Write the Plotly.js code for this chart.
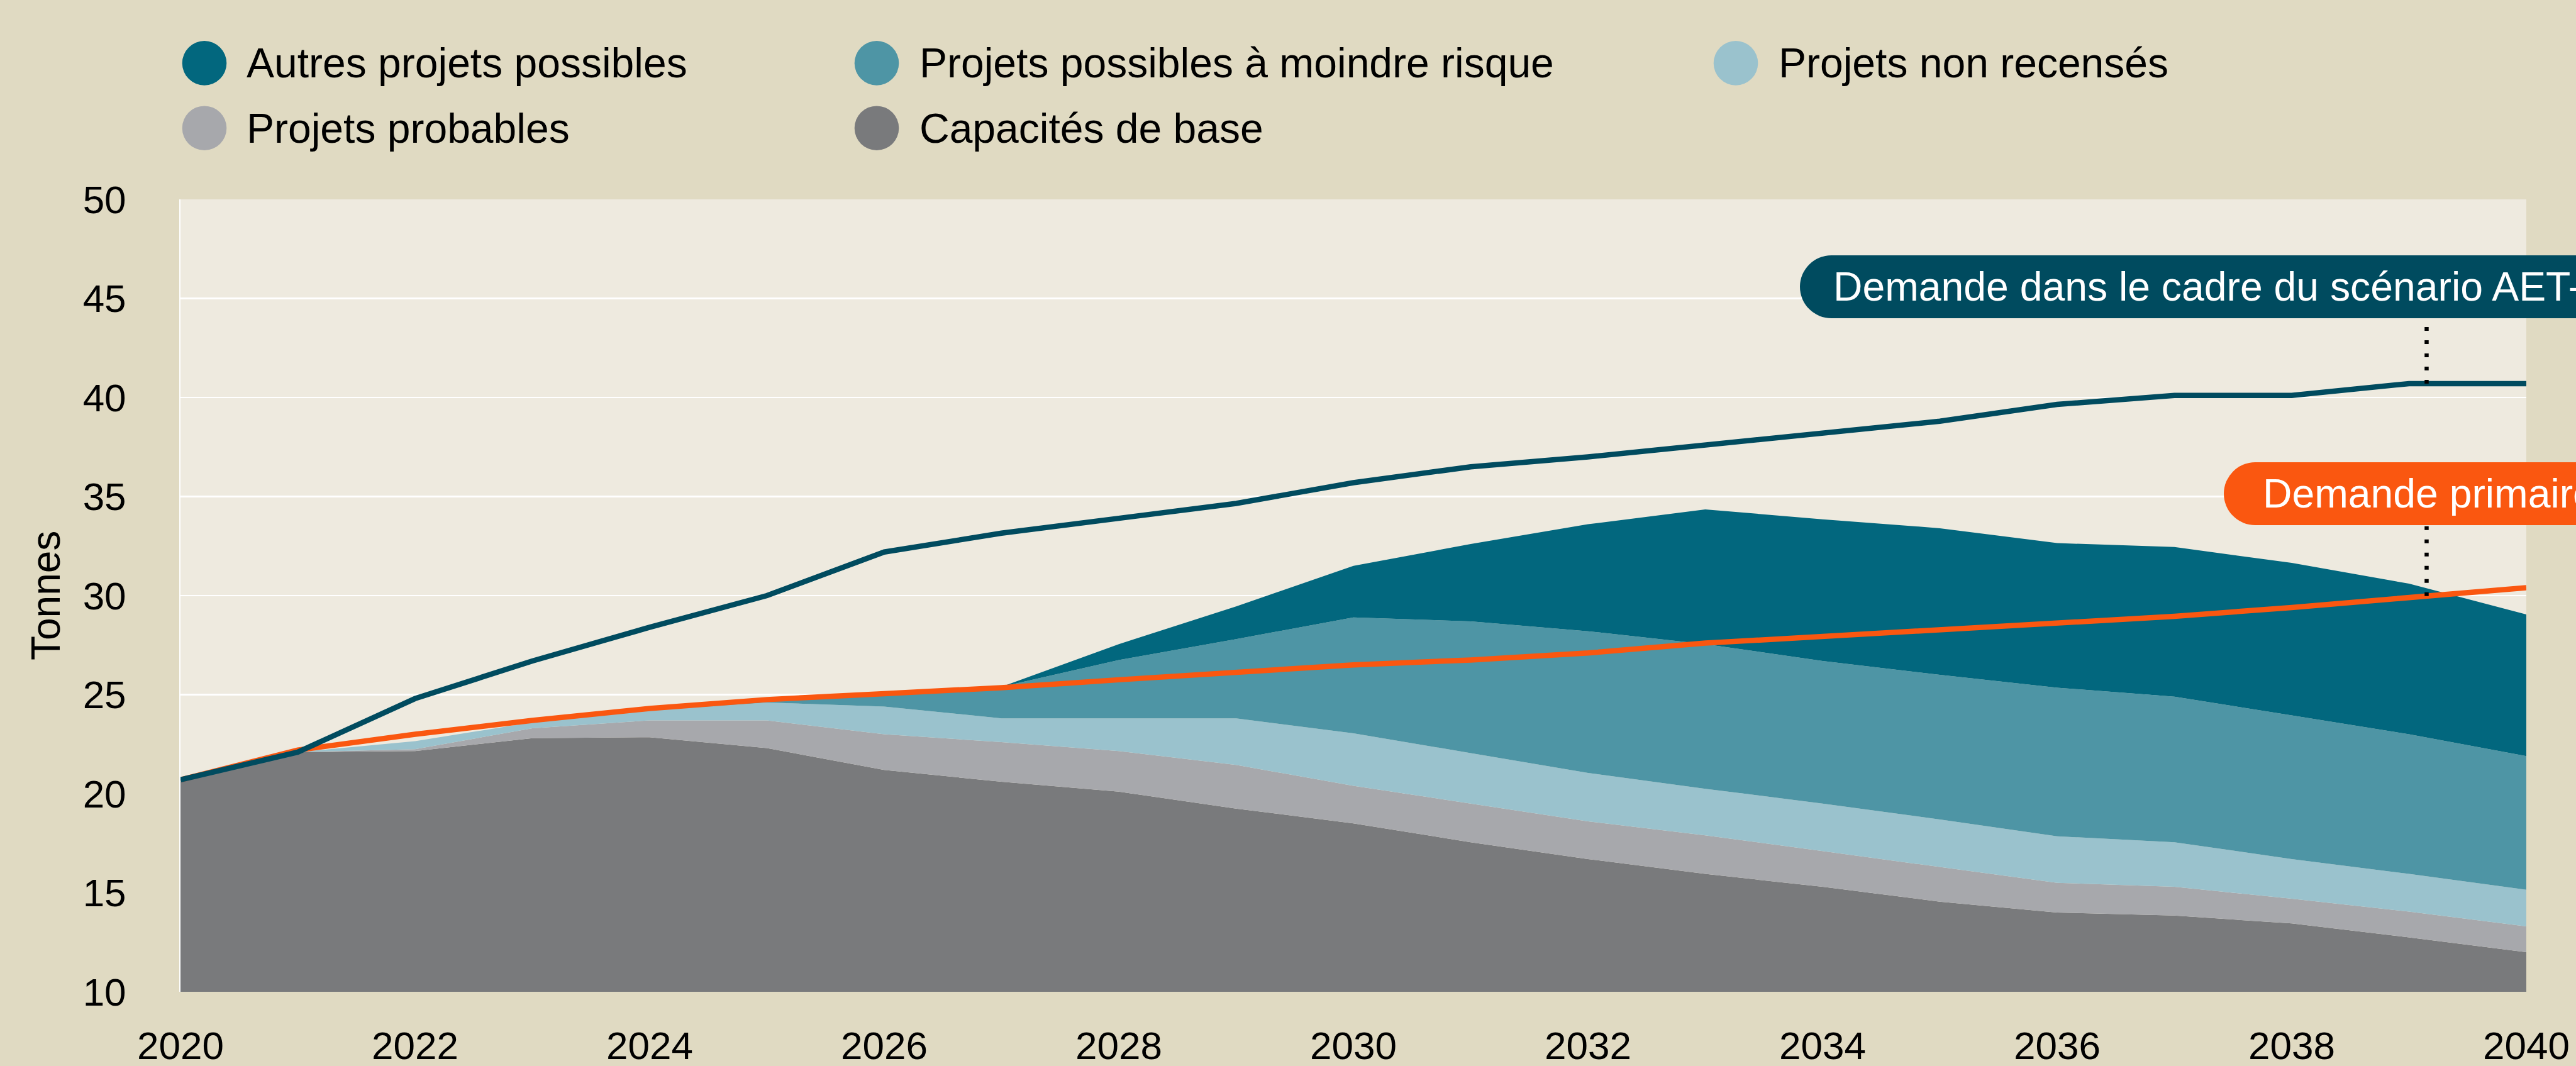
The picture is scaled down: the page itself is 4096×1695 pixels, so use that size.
<!DOCTYPE html>
<html>
<head>
<meta charset="utf-8">
<script src="https://cdn.plot.ly/plotly-3.0.1.min.js"></script>
<style>
  html, body { margin: 0; padding: 0; background: #e0dac2; }
  #chart { width: 4096px; height: 1695px; }
</style>
</head>
<body>
<div id="chart"></div>
<script>
// ---------- DATA ----------
const years = [2020, 2021, 2022, 2023, 2024, 2025, 2026, 2027, 2028, 2029, 2030,
               2031, 2032, 2033, 2034, 2035, 2036, 2037, 2038, 2039, 2040];

// stacked supply components (tonnes)
const capacitesBase     = [20.6, 22.1, 22.15, 22.8, 22.85, 22.3, 21.2, 20.6, 20.1, 19.25, 18.5,
                           17.55, 16.7, 15.95, 15.3, 14.55, 14.0, 13.85, 13.45, 12.75, 12.0];
const projetsProbables  = [0, 0, 0.1, 0.5, 0.85, 1.4, 1.8, 2.0, 2.05, 2.2, 1.9,
                           1.95, 1.9, 1.95, 1.8, 1.75, 1.5, 1.45, 1.25, 1.3, 1.3];
const projetsNonRecenses = [0, 0, 0.4, 0.3, 0.5, 0.9, 1.4, 1.2, 1.65, 2.35, 2.65,
                           2.55, 2.45, 2.35, 2.4, 2.4, 2.35, 2.25, 2.0, 1.9, 1.85];
const moindreRisque     = [0, 0, 0, 0, 0, 0.1, 0.6, 1.6, 2.95, 4.0, 5.85,
                           6.65, 7.15, 7.3, 7.2, 7.3, 7.5, 7.35, 7.25, 7.05, 6.75];
const autresPossibles   = [0, 0, 0, 0, 0, 0, 0, 0, 0.8, 1.65, 2.6,
                           3.9, 5.4, 6.8, 7.15, 7.4, 7.3, 7.55, 7.7, 7.6, 7.15];

// demand lines (tonnes)
const demandeAET      = [20.7, 22.1, 24.8, 26.7, 28.4, 30.0, 32.2, 33.15, 33.9, 34.65, 35.7,
                         36.5, 37.0, 37.6, 38.25, 38.8, 39.65, 40.1, 40.1, 40.7, 40.7];
const demandePrimaire = [20.7, 22.2, 23.0, 23.7, 24.3, 24.75, 25.05, 25.35, 25.75, 26.15, 26.5,
                         26.75, 27.1, 27.6, 27.95, 28.25, 28.6, 28.95, 29.4, 29.9, 30.4];

const seriesNames = ["Autres projets possibles", "Projets possibles à moindre risque",
                     "Projets non recensés", "Projets probables", "Capacités de base"];
const lineLabels = ["Demande dans le cadre du scénario AET-", "Demande primaire"];
const xTickVals = [2020, 2022, 2024, 2026, 2028, 2030, 2032, 2034, 2036, 2038, 2040];
const yAxisLabel = "Tonnes";

// ---------- STYLE ----------
const FONT = "'Liberation Sans', Arial, sans-serif";
const C = {
  autres: "#02677e", moindre: "#4e95a5", nonRec: "#9ac2cd",
  probables: "#a7a8ac", base: "#797a7c",
  aet: "#004b5f", primaire: "#fa5710",
  paper: "#e0dac2", plot: "#eeeadf"
};

const W = 4096, H = 1695;
const M = { l: 287, r: 79, t: 317, b: 118 };
const pw = W - M.l - M.r, ph = H - M.t - M.b;
const px = X => (X - M.l) / pw;
const py = Y => (H - M.b - Y) / ph;

function area(name, y, color) {
  return { type: "scatter", x: years, y: y, name: name, stackgroup: "one",
           mode: "none", fillcolor: color, line: { width: 0 }, hoverinfo: "skip", showlegend: false };
}
const traces = [
  area(seriesNames[4], capacitesBase, C.base),
  area(seriesNames[3], projetsProbables, C.probables),
  area(seriesNames[2], projetsNonRecenses, C.nonRec),
  area(seriesNames[1], moindreRisque, C.moindre),
  area(seriesNames[0], autresPossibles, C.autres),
  { type: "scatter", x: years, y: demandePrimaire, mode: "lines", name: lineLabels[1],
    line: { color: C.primaire, width: 8.5 }, hoverinfo: "skip", showlegend: false },
  { type: "scatter", x: years, y: demandeAET, mode: "lines", name: lineLabels[0],
    line: { color: C.aet, width: 8.5 }, hoverinfo: "skip", showlegend: false }
];

// ---------- custom legend (large round swatches) ----------
const legendItems = [
  { i: 0, color: C.autres,    cx: 325,  cy: 100.4, tx: 390 },
  { i: 1, color: C.moindre,   cx: 1394, cy: 100.4, tx: 1460 },
  { i: 2, color: C.nonRec,    cx: 2760, cy: 100.4, tx: 2826 },
  { i: 3, color: C.probables, cx: 325,  cy: 203.7, tx: 390 },
  { i: 4, color: C.base,      cx: 1394, cy: 203.7, tx: 1460 }
];
const R = 35.3;
const shapes = [];
const annotations = [];
legendItems.forEach(it => {
  shapes.push({ type: "circle", xref: "paper", yref: "paper",
    x0: px(it.cx - R), x1: px(it.cx + R), y0: py(it.cy + R), y1: py(it.cy - R),
    fillcolor: it.color, line: { width: 0 } });
  annotations.push({ xref: "paper", yref: "paper", x: px(it.tx), y: py(it.cy),
    xanchor: "left", yanchor: "middle", showarrow: false, text: seriesNames[it.i],
    font: { family: FONT, size: 66, color: "#000000" } });
});

// ---------- pill labels ----------
function pill(left, top, bottom, color, textX, label) {
  const r = (bottom - top) / 2;
  shapes.push({ type: "circle", xref: "paper", yref: "paper",
    x0: px(left), x1: px(left + 2 * r), y0: py(bottom), y1: py(top),
    fillcolor: color, line: { width: 0 }, layer: "above" });
  shapes.push({ type: "rect", xref: "paper", yref: "paper",
    x0: px(left + r), x1: px(W + 200), y0: py(bottom), y1: py(top),
    fillcolor: color, line: { width: 0 }, layer: "above" });
  annotations.push({ xref: "paper", yref: "paper", x: px(textX), y: py((top + bottom) / 2),
    xanchor: "left", yanchor: "middle", showarrow: false, text: label,
    font: { family: FONT, size: 64.3, color: "#ffffff" } });
}
pill(2862, 406, 506, C.aet, 2913, lineLabels[0]);
pill(3536, 735, 835, C.primaire, 3596, lineLabels[1]);

// dotted leader lines from pills down to their line
const leaderX = 2039.15;
const idx2039 = years.indexOf(2039);
shapes.push({ type: "line", xref: "x", yref: "y", x0: leaderX, x1: leaderX,
  y0: demandeAET[idx2039], y1: 44.0, line: { color: "#000000", width: 6.5, dash: "6px,15px" } });
shapes.push({ type: "line", xref: "x", yref: "y", x0: leaderX, x1: leaderX,
  y0: demandePrimaire[idx2039] + 0.08, y1: 33.55, line: { color: "#000000", width: 6.5, dash: "6px,15px" } });

// y axis title
annotations.push({ xref: "paper", yref: "paper", x: px(73), y: 0.5, xanchor: "center", yanchor: "middle",
  showarrow: false, text: yAxisLabel, textangle: -90,
  font: { family: FONT, size: 64, color: "#000000" } });

const layout = {
  width: W, height: H,
  margin: M,
  paper_bgcolor: C.paper, plot_bgcolor: C.plot,
  font: { family: FONT, color: "#000000" },
  showlegend: false,
  xaxis: {
    range: [2020, 2040], tickvals: xTickVals, ticktext: xTickVals.map(String),
    showgrid: false, zeroline: false, ticks: "", ticklabelstandoff: 44,
    tickfont: { family: FONT, size: 62, color: "#000000" }, fixedrange: true
  },
  yaxis: {
    range: [10, 50], tick0: 10, dtick: 5,
    showgrid: true, gridcolor: "#ffffff", gridwidth: 2.5,
    zeroline: false, ticks: "", ticklabelstandoff: 72,
    showline: true, linecolor: "#ffffff", linewidth: 2,
    tickfont: { family: FONT, size: 62, color: "#000000" }, fixedrange: true
  },
  shapes: shapes,
  annotations: annotations
};

Plotly.newPlot("chart", traces, layout, { displayModeBar: false, staticPlot: true });
</script>
</body>
</html>
